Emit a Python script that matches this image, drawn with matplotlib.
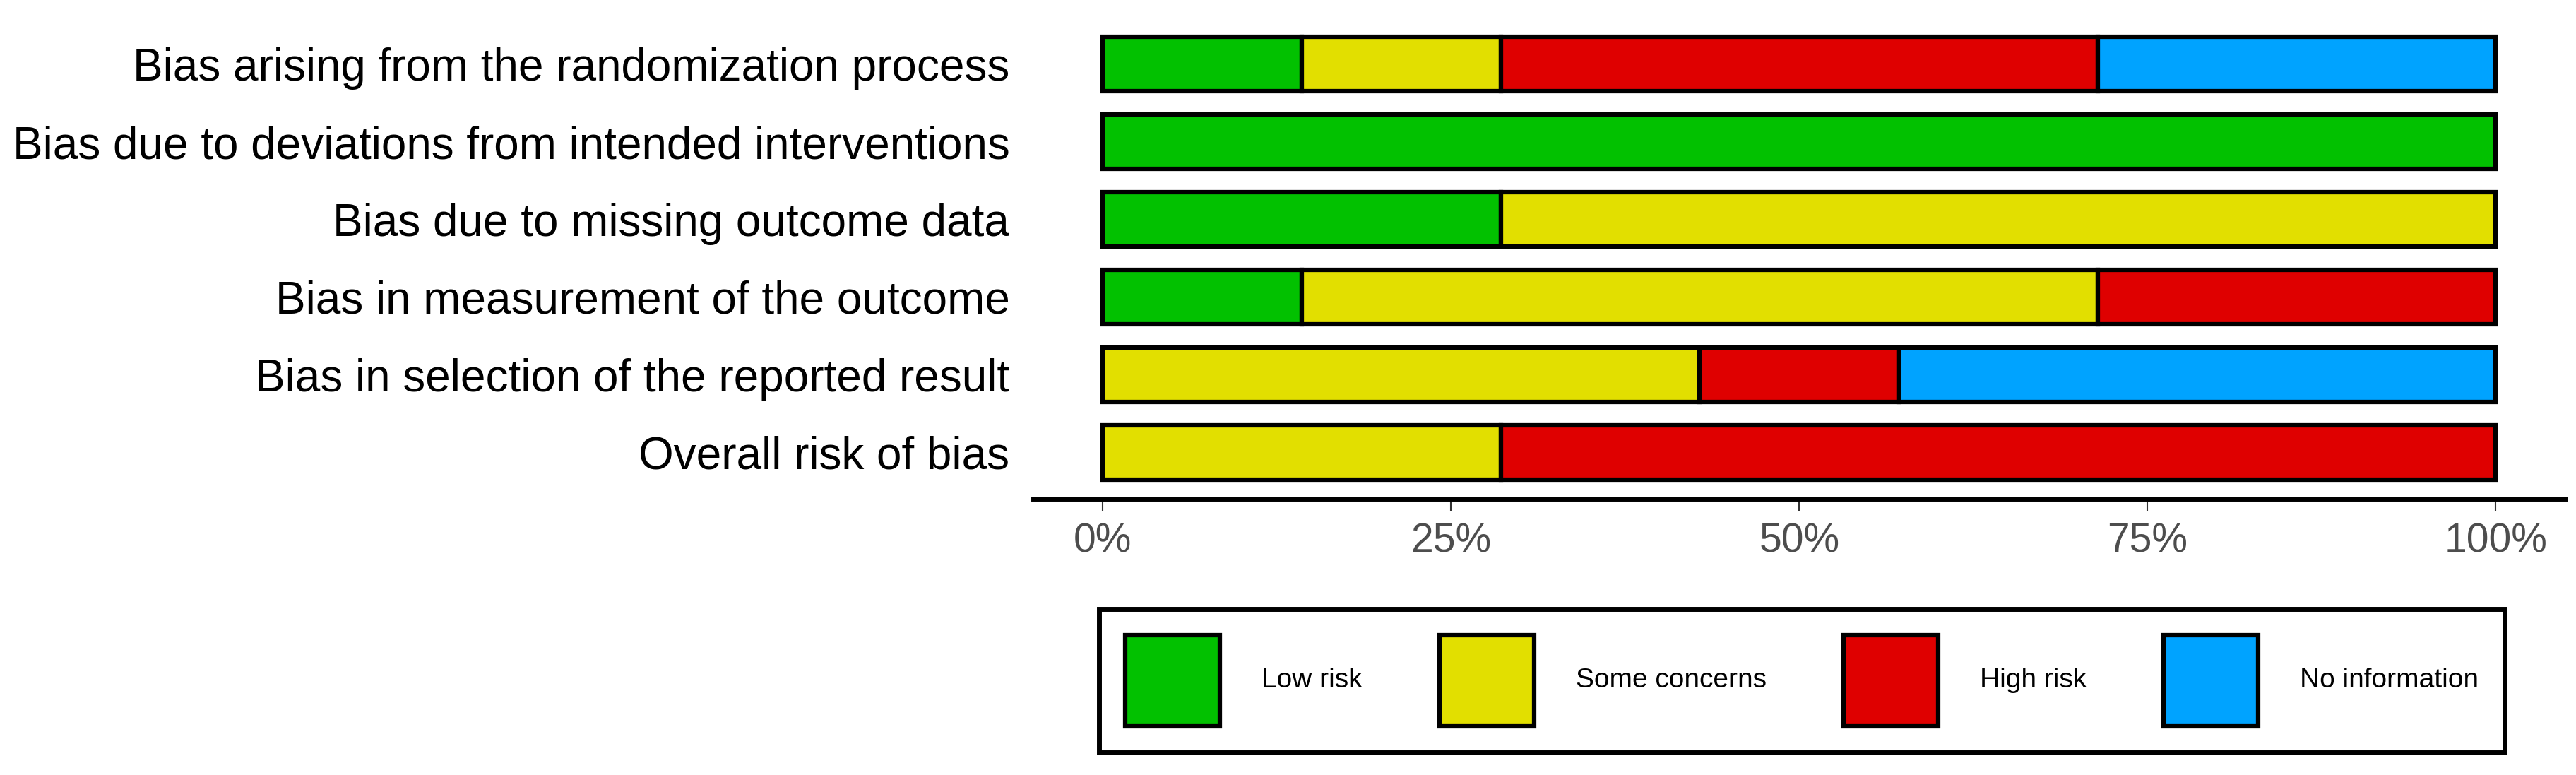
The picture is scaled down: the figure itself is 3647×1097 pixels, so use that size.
import matplotlib
matplotlib.use("Agg")
import matplotlib.pyplot as plt
from matplotlib.patches import Patch
import numpy as np

plt.rcParams['font.family'] = ['Liberation Sans', 'DejaVu Sans']

# risk of bias summary, 7 studies
domains = ["Bias arising from the randomization process",
           "Bias due to deviations from intended interventions",
           "Bias due to missing outcome data",
           "Bias in measurement of the outcome",
           "Bias in selection of the reported result",
           "Overall risk of bias"]
n_studies = 7
low_risk = [1, 7, 2, 1, 0, 0]
some_concerns = [1, 0, 5, 4, 3, 2]
high_risk = [3, 0, 0, 2, 1, 5]
no_info = [2, 0, 0, 0, 3, 0]

judgements = ["Low risk", "Some concerns", "High risk", "No information"]
colours = ["#02C100", "#E2DF00", "#DF0000", "#00A3FF"]
xticks = [0, 0.25, 0.5, 0.75, 1.0]
xtick_labels = ["0%", "25%", "50%", "75%", "100%"]

fig = plt.figure(figsize=(36.47, 10.97), dpi=100)
ax = fig.add_axes([0.4011, 0.3564, 0.5947, 0.6208])

y = np.arange(len(domains))[::-1] + 1
left = np.zeros(len(domains))
for counts, col in zip([low_risk, some_concerns, high_risk, no_info], colours):
    w = np.array(counts) / n_studies
    ax.barh(y, w, left=left, height=0.7, color=col, edgecolor="black", linewidth=4.5)
    left = left + w

ax.set_xlim(-0.05, 1.05)
ax.set_ylim(0.4, 6.6)
ax.set_yticks(y)
ax.set_yticklabels(domains, fontsize=46, color="black")
ax.tick_params(axis="y", length=0, pad=24)
ax.set_xticks(xticks)
ax.set_xticklabels(xtick_labels, fontsize=41, color="#4D4D4D")
ax.tick_params(axis="x", length=13, width=1.5, color="#333333", pad=11)

for s in ["top", "right", "left"]:
    ax.spines[s].set_visible(False)
ax.spines["bottom"].set_linewidth(5)
ax.spines["bottom"].set_color("black")

handles = [Patch(facecolor=c, edgecolor="black", linewidth=4.5) for c in colours]
leg = fig.legend(handles, judgements, loc="upper center", bbox_to_anchor=(0.6995, 0.2145),
                 ncol=4, fontsize=28, handleheight=4.75, handlelength=3.45,
                 handletextpad=1.52, columnspacing=2.8, borderpad=0.95,
                 borderaxespad=0, fancybox=False, framealpha=1)
leg.get_frame().set_edgecolor("black")
leg.get_frame().set_linewidth(5)

fig.savefig("out.png", dpi=100)
